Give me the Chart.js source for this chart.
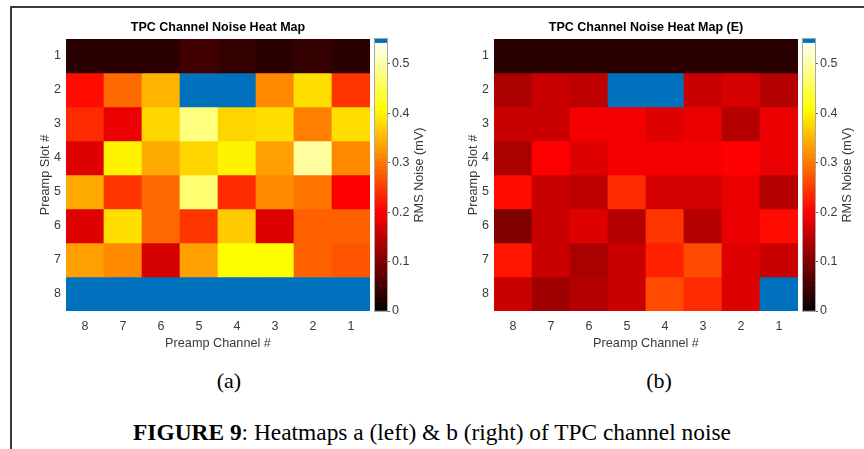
<!DOCTYPE html>
<html>
<head>
<meta charset="utf-8">
<script src="https://cdn.jsdelivr.net/npm/chart.js@4/dist/chart.umd.min.js"></script>
<style>
  html, body { margin:0; padding:0; background:#fff; }
  body { width:864px; height:449px; position:relative; overflow:hidden; }
  canvas { position:absolute; }
  #frame { position:absolute; left:10px; top:6px; width:870px; height:460px;
           border-top:2px solid #3a3a3a; border-left:2px solid #3a3a3a; }
  .cap { position:absolute; font-family:"Liberation Serif","Times New Roman",serif; color:#000;
         text-align:center; white-space:nowrap; }
</style>
</head>
<body>
<div id="frame"></div>
<canvas id="hmA" width="376" height="338" style="left:30px;top:16px"></canvas>
<canvas id="cbA" width="70" height="338" style="left:370px;top:16px"></canvas>
<canvas id="hmB" width="376" height="338" style="left:458px;top:16px"></canvas>
<canvas id="cbB" width="70" height="338" style="left:798px;top:16px"></canvas>
<div class="cap" style="left:179px;top:369px;width:100px;font-size:22px;line-height:24px">(a)</div>
<div class="cap" style="left:609px;top:369px;width:100px;font-size:22px;line-height:24px">(b)</div>
<div class="cap" style="left:0px;top:420px;width:864px;font-size:23.4px;line-height:24px"><b>FIGURE 9</b>: Heatmaps a (left) &amp; b (right) of TPC channel noise</div>
<script>
// ---------------- data ----------------
const channelLabels = ['8','7','6','5','4','3','2','1'];   // x categories (Preamp Channel #)
const slotNumbers   = [1,2,3,4,5,6,7,8];                   // y rows (Preamp Slot #)
const colorbarTicks = [0,0.1,0.2,0.3,0.4,0.5];
const colorMax = 0.55;                                      // colour scale limit (mV)

const titleA = 'TPC Channel Noise Heat Map';
const titleB = 'TPC Channel Noise Heat Map (E)';
const xTitle = 'Preamp Channel #';
const yTitle = 'Preamp Slot #';
const cbTitle = 'RMS Noise (mV)';

// (a) RMS noise, mV — one array per slot, columns channel 8..1 (null = no data)
const aSlot1 = [0.030,0.030,0.033,0.045,0.036,0.033,0.040,0.030];
const aSlot2 = [0.214,0.288,0.348,null ,null ,0.310,0.381,0.245];
const aSlot3 = [0.240,0.181,0.378,0.481,0.374,0.380,0.303,0.385];
const aSlot4 = [0.179,0.398,0.343,0.371,0.398,0.330,0.495,0.316];
const aSlot5 = [0.343,0.247,0.292,0.468,0.240,0.310,0.296,0.205];
const aSlot6 = [0.175,0.385,0.288,0.247,0.364,0.179,0.278,0.278];
const aSlot7 = [0.335,0.316,0.165,0.330,0.410,0.410,0.278,0.270];
const aSlot8 = [null ,null ,null ,null ,null ,null ,null ,null ];

// (b) RMS noise (E), mV
const bSlot1 = [0.030,0.030,0.030,0.030,0.030,0.030,0.030,0.030];
const bSlot2 = [0.134,0.159,0.151,null ,null ,0.161,0.165,0.145];
const bSlot3 = [0.155,0.155,0.192,0.194,0.179,0.181,0.146,0.186];
const bSlot4 = [0.129,0.206,0.179,0.196,0.191,0.194,0.205,0.186];
const bSlot5 = [0.212,0.159,0.149,0.240,0.170,0.165,0.181,0.146];
const bSlot6 = [0.103,0.160,0.175,0.142,0.245,0.146,0.181,0.210];
const bSlot7 = [0.222,0.159,0.136,0.161,0.229,0.258,0.179,0.161];
const bSlot8 = [0.155,0.121,0.146,0.159,0.262,0.238,0.179,null ];

const rowsA = [aSlot1,aSlot2,aSlot3,aSlot4,aSlot5,aSlot6,aSlot7,aSlot8];
const rowsB = [bSlot1,bSlot2,bSlot3,bSlot4,bSlot5,bSlot6,bSlot7,bSlot8];

// ---------------- colour map (hot, 64 levels, top level = blue) ----------------
const NLEV = 64;
const MISSING = '#0072BD';
function levelColor(i) { // i: 1..64
  if (i >= NLEV) return MISSING;
  const c = x => Math.max(0, Math.min(1, x));
  const r = c(i/24), g = c((i-24)/24), b = c((i-48)/16);
  return 'rgb(' + Math.round(r*255) + ',' + Math.round(g*255) + ',' + Math.round(b*255) + ')';
}
function valueColor(v) {
  if (v === null || v === undefined) return MISSING;
  const i = Math.min(NLEV, Math.floor(v / colorMax * NLEV) + 1);
  return levelColor(i);
}

// ---------------- chart defaults ----------------
const FONT = '"Liberation Sans", Arial, Helvetica, sans-serif';
Chart.defaults.font.family = FONT;
Chart.defaults.font.size = 12;
Chart.defaults.color = '#3a3a3a';

function heatmap(id, title, rows) {
  return new Chart(document.getElementById(id), {
    type: 'bar',
    data: {
      labels: channelLabels,
      datasets: slotNumbers.map((s, r) => ({
        label: 'Slot ' + s,
        data: channelLabels.map(() => [s - 0.5, s + 0.5]),
        backgroundColor: rows[r].map(valueColor),
        borderWidth: 0,
        barPercentage: 1,
        categoryPercentage: 1,
        grouped: false
      }))
    },
    options: {
      responsive: false, animation: false, events: [],
      layout: { padding: 0 },
      plugins: {
        legend: { display: false },
        tooltip: { enabled: false },
        title: { display: true, text: title, color: '#000',
                 font: { size: 12.5, weight: 'bold' }, padding: { top: 4, bottom: 4 } }
      },
      scales: {
        x: {
          grid: { display: false, drawTicks: false }, border: { display: false },
          ticks: { padding: 8, font: { size: 12.5 } },
          title: { display: true, text: xTitle, font: { size: 12.7 }, padding: { top: 0, bottom: 3 } },
          afterFit: s => { s.height = 43; }
        },
        y: {
          type: 'linear', min: 0.5, max: 8.5, reverse: true,
          afterBuildTicks: s => { s.ticks = slotNumbers.map(v => ({ value: v })); },
          grid: { display: false, drawTicks: false }, border: { display: false },
          ticks: { padding: 5, font: { size: 12.5 }, callback: v => String(v) },
          title: { display: true, text: yTitle, font: { size: 12.7 }, padding: { top: 8, bottom: 0 } },
          afterFit: s => { s.width = 36; }
        },
        yR: {
          type: 'linear', position: 'right', display: true,
          grid: { display: false, drawTicks: false }, border: { display: false }, ticks: { display: false },
          afterFit: s => { s.width = 36; }
        }
      }
    }
  });
}

const cbDecor = {
  id: 'cbDecor',
  afterDraw(chart, args, opts) {
    const { ctx, chartArea: a } = chart;
    ctx.save();
    ctx.strokeStyle = '#a8a8a8';
    ctx.lineWidth = 1;
    ctx.strokeRect(a.left - 0.5, a.top - 0.5, a.right - a.left + 1, a.bottom - a.top + 1);
    ctx.translate(a.right + opts.offset, (a.top + a.bottom) / 2);
    ctx.rotate(-Math.PI / 2);
    ctx.font = '12.7px ' + FONT;
    ctx.fillStyle = '#3a3a3a';
    ctx.textAlign = 'center';
    ctx.textBaseline = 'middle';
    ctx.fillText(opts.text, 0, 0);
    ctx.restore();
  }
};

function colorbar(id) {
  const levels = Array.from({ length: NLEV }, (_, k) => k + 1);
  return new Chart(document.getElementById(id), {
    type: 'bar',
    data: {
      labels: ['cb'],
      datasets: levels.map(i => ({
        data: [[(i - 1) / NLEV * colorMax, i / NLEV * colorMax]],
        backgroundColor: levelColor(i),
        borderWidth: 0, barPercentage: 1, categoryPercentage: 1, grouped: false
      }))
    },
    options: {
      responsive: false, animation: false, events: [],
      layout: { padding: { top: 23, bottom: 43, left: 5, right: 0 } },
      plugins: {
        legend: { display: false }, tooltip: { enabled: false },
        cbDecor: { text: cbTitle, offset: 32 }
      },
      scales: {
        x: { display: false },
        y: {
          position: 'right', min: 0, max: colorMax,
          afterBuildTicks: s => { s.ticks = colorbarTicks.map(v => ({ value: v })); },
          grid: { display: true, drawOnChartArea: false, tickLength: 3, color: '#666' },
          border: { display: false },
          ticks: { padding: 2, font: { size: 12.5 }, callback: v => String(Math.round(v * 10) / 10) },
          afterFit: s => { s.width = 53; }
        }
      }
    },
    plugins: [cbDecor]
  });
}

heatmap('hmA', titleA, rowsA);
heatmap('hmB', titleB, rowsB);
colorbar('cbA');
colorbar('cbB');
</script>
</body>
</html>
